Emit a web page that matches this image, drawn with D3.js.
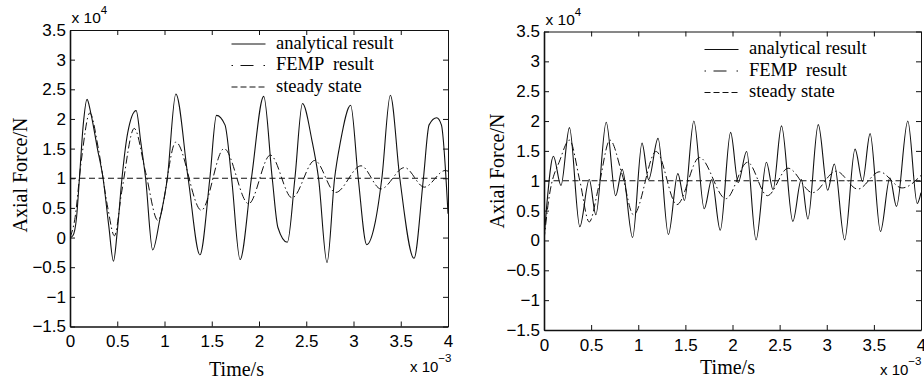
<!DOCTYPE html>
<html><head><meta charset="utf-8">
<script src="https://cdn.jsdelivr.net/npm/d3@7"></script>
<style>body{margin:0;background:#fff}svg{display:block}</style>
</head><body><svg id="c" width="924" height="387"></svg>
<script>
// Time in units of 1e-3 s, force in units of 1e4 N
const xTicks = [0, 0.5, 1, 1.5, 2, 2.5, 3, 3.5, 4];
const yTicks = [-1.5, -1, -0.5, 0, 0.5, 1, 1.5, 2, 2.5, 3, 3.5];
const steadyState = 1;
const legendLabels = ["analytical result", "FEMP  result", "steady state"];

const leftAnalytical = [[0,0],[0.03,0.03],[0.07,0.35],[0.10,1.0],[0.14,1.9],[0.18,2.33],[0.22,2.1],[0.29,1.5],[0.35,1.0],[0.41,0.2],[0.46,-0.40],[0.50,0.1],[0.55,1.0],[0.61,1.76],[0.70,2.14],[0.75,1.6],[0.80,1.0],[0.875,-0.21],[0.95,0.3],[1.03,1.0],[1.12,2.42],[1.25,1.0],[1.375,-0.29],[1.48,1.0],[1.55,2.06],[1.64,1.9],[1.71,1.0],[1.80,-0.37],[1.92,1.0],[2.05,2.38],[2.14,1.0],[2.20,0.17],[2.30,-0.08],[2.38,1.0],[2.46,2.26],[2.56,1.64],[2.63,1.0],[2.72,-0.42],[2.80,1.0],[2.86,1.6],[2.97,2.23],[3.05,1.0],[3.14,-0.12],[3.23,0.26],[3.30,1.0],[3.39,2.40],[3.49,1.0],[3.64,-0.35],[3.74,1.0],[3.80,1.9],[3.88,2.02],[3.93,1.9],[4.0,0.4]];
const leftFEMP = [[0,0],[0.05,0.3],[0.12,1.3],[0.21,2.1],[0.3,1.5],[0.40,0.5],[0.47,0.03],[0.55,0.8],[0.68,1.84],[0.8,1.1],[0.93,0.29],[1.12,1.61],[1.39,0.46],[1.63,1.50],[1.89,0.57],[2.12,1.39],[2.35,0.67],[2.59,1.30],[2.81,0.76],[3.08,1.21],[3.29,0.82],[3.54,1.18],[3.75,0.85],[3.97,1.13],[4.0,1.12]];
const rightAnalytical = [[0,0],[0.03,0.6],[0.10,1.41],[0.18,0.92],[0.27,1.89],[0.38,0.23],[0.48,1.02],[0.55,0.43],[0.66,1.98],[0.76,0.75],[0.83,1.19],[0.94,0.05],[1.04,1.63],[1.11,1.02],[1.21,1.71],[1.32,0.1],[1.42,1.12],[1.49,0.67],[1.59,2.0],[1.70,0.53],[1.78,1.02],[1.87,0.17],[1.98,1.81],[2.06,0.97],[2.15,1.49],[2.25,0.01],[2.36,1.31],[2.43,0.85],[2.52,1.92],[2.64,0.32],[2.73,1.02],[2.80,0.36],[2.91,1.94],[3.01,0.84],[3.08,1.28],[3.19,0.01],[3.30,1.53],[3.38,0.99],[3.46,1.79],[3.57,0.15],[3.67,1.05],[3.74,0.57],[3.86,2.0],[3.96,0.62],[4.0,0.8]];
const rightFEMP = [[0,0],[0.05,0.68],[0.17,1.35],[0.27,1.68],[0.38,1.0],[0.48,0.31],[0.58,0.9],[0.70,1.68],[0.83,1.1],[0.95,0.43],[1.19,1.49],[1.41,0.6],[1.65,1.39],[1.93,0.70],[2.16,1.31],[2.37,0.75],[2.59,1.21],[2.85,0.80],[3.1,1.16],[3.33,0.86],[3.56,1.15],[3.80,0.88],[4.0,1.09]];

const svg = d3.select("#c");
const SANS = "'Liberation Sans', Arial, Helvetica, sans-serif";
const SERIF = "'Liberation Serif', 'Times New Roman', serif";
const INK = "#111";
const fmt = d => d < 0 ? "\u2212" + Math.abs(d) : String(d);

function panel(cfg, analytical, femp, id) {
  const x = d3.scaleLinear().domain([0, 4]).range([cfg.x0, cfg.x1]);
  const y = d3.scaleLinear().domain([-1.5, 3.5]).range([cfg.yBot, cfg.yTop]);
  const g = svg.append("g");

  g.append("clipPath").attr("id", "clip" + id).append("rect")
    .attr("x", cfg.x0).attr("y", cfg.yTop).attr("width", cfg.x1 - cfg.x0).attr("height", cfg.yBot - cfg.yTop);

  const line = d3.line().x(d => x(d[0])).y(d => y(d[1])).curve(d3.curveMonotoneX);
  const plot = g.append("g").attr("clip-path", `url(#clip${id})`);
  plot.append("path").datum(x.domain().map(t => [t, steadyState]))
    .attr("d", d3.line().x(d => x(d[0])).y(d => y(d[1])))
    .attr("fill", "none").attr("stroke", INK).attr("stroke-width", 1).attr("stroke-dasharray", "6,3.5");
  plot.append("path").datum(femp).attr("d", line)
    .attr("fill", "none").attr("stroke", INK).attr("stroke-width", 1).attr("stroke-dasharray", "8,3,1.5,3");
  plot.append("path").datum(analytical).attr("d", line)
    .attr("fill", "none").attr("stroke", INK).attr("stroke-width", 1.1);

  const axB = g.append("g").attr("transform", `translate(0,${cfg.yBot})`)
    .call(d3.axisBottom(x).tickValues(xTicks).tickFormat(fmt).tickSize(-5).tickSizeOuter(0).tickPadding(8.5));
  const axT = g.append("g").attr("transform", `translate(0,${cfg.yTop})`)
    .call(d3.axisTop(x).tickValues(xTicks).tickFormat("").tickSize(-5).tickSizeOuter(0));
  const axL = g.append("g").attr("transform", `translate(${cfg.x0},0)`)
    .call(d3.axisLeft(y).tickValues(yTicks).tickFormat(fmt).tickSize(-5).tickSizeOuter(0).tickPadding(4));
  const axR = g.append("g").attr("transform", `translate(${cfg.x1},0)`)
    .call(d3.axisRight(y).tickValues(yTicks).tickFormat("").tickSize(-5).tickSizeOuter(0));
  [axB, axT, axL, axR].forEach(a => {
    a.selectAll("line").attr("stroke", INK).attr("stroke-width", 1);
    a.selectAll("text").attr("fill", "#000").style("font-family", SANS).style("font-size", "17px");
    a.select(".domain").attr("stroke", INK);
  });
  axT.select(".domain").attr("stroke-width", 1);
  axR.select(".domain").attr("stroke-width", 1);
  axB.select(".domain").attr("stroke-width", 1.6);
  axL.select(".domain").attr("stroke-width", 1.6);

  // multipliers
  const m4 = g.append("text").attr("x", cfg.x0 + 1.5).attr("y", cfg.m4y)
    .style("font-family", SANS).style("font-size", "15.5px").attr("fill", "#000").text("x 10");
  m4.append("tspan").attr("dy", -9).style("font-size", "11.5px").text("4");
  const m3 = g.append("text").attr("x", cfg.m3x).attr("y", cfg.m3y)
    .style("font-family", SANS).style("font-size", "15px").attr("fill", "#000").text("x 10");
  m3.append("tspan").attr("dy", -10).style("font-size", "11.5px").text("\u22123");

  // axis titles
  g.append("text").attr("x", cfg.xlx).attr("y", cfg.xly).attr("text-anchor", "middle")
    .style("font-family", SERIF).style("font-size", "20px").attr("fill", "#000").text("Time/s");
  g.append("text").attr("transform", `translate(${cfg.ylx},${cfg.yly}) rotate(-90)`).attr("text-anchor", "middle")
    .style("font-family", SERIF).style("font-size", "20px").attr("fill", "#000").text("Axial Force/N");

  // legend
  const dashes = [null, "1.5,7.5,13,10", "6,3"];
  legendLabels.forEach((lab, i) => {
    const by = cfg.legY[i];
    g.append("line").attr("x1", cfg.legX).attr("x2", cfg.legX + 34).attr("y1", by - 4.5).attr("y2", by - 4.5)
      .attr("stroke", INK).attr("stroke-width", 1).attr("stroke-dasharray", dashes[i]);
    g.append("text").attr("x", cfg.legX + 44.5).attr("y", by)
      .style("font-family", SERIF).style("font-size", "18.5px").style("white-space", "pre")
      .attr("fill", "#000").text(lab);
  });
}

panel({x0: 70, x1: 448, yTop: 30, yBot: 326.5, m4y: 22.5, m3x: 410, m3y: 371.5,
       xlx: 236.5, xly: 376, ylx: 27, yly: 175, legX: 231.5, legY: [48.5, 70, 91.5]},
      leftAnalytical, leftFEMP, "L");
panel({x0: 544, x1: 921, yTop: 31.5, yBot: 330, m4y: 24.5, m3x: 880, m3y: 375,
       xlx: 727.5, xly: 373.5, ylx: 504, yly: 171, legX: 704.5, legY: [54, 75.5, 97]},
      rightAnalytical, rightFEMP, "R");
</script></body></html>
